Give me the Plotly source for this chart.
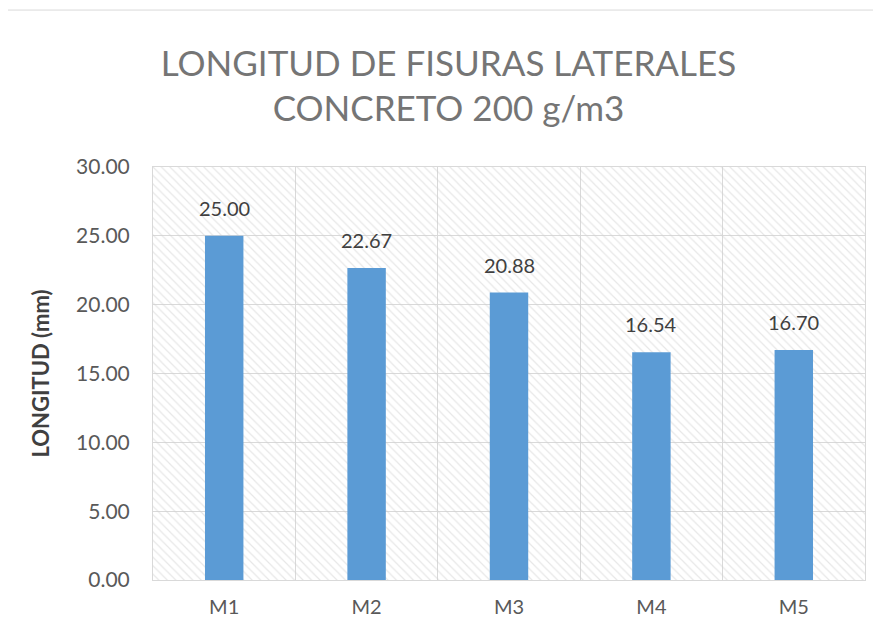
import plotly.graph_objects as go

categories = ["M1", "M2", "M3", "M4", "M5"]
values = [25.00, 22.67, 20.88, 16.54, 16.70]
y_ticks = [0, 5, 10, 15, 20, 25, 30]
y_tick_labels = ["0.00", "5.00", "10.00", "15.00", "20.00", "25.00", "30.00"]
y_max = 30
title_lines = ["LONGITUD DE FISURAS LATERALES", "CONCRETO 200 g/m3"]
y_title = "LONGITUD (mm)"

FONT = "Lato, Open Sans, sans-serif"
n = len(categories)

fig = go.Figure()

# hatched plot background spanning all categories and the full value range
fig.add_trace(go.Bar(
    x=[categories[n // 2]], y=[y_max], width=[n],
    marker=dict(color="rgba(0,0,0,0)", line=dict(width=0),
                pattern=dict(shape="\\", fgcolor="#d0d0d0", bgcolor="rgba(0,0,0,0)",
                             size=6, solidity=0.2)),
    hoverinfo="skip", showlegend=False,
))

fig.add_trace(go.Bar(
    x=categories, y=values, width=[0.27] * n,
    marker=dict(color="#5b9bd5", line=dict(width=0)),
    showlegend=False,
))

for c, v in zip(categories, values):
    fig.add_annotation(
        x=c, y=v, text=f"{v:.2f}", showarrow=False,
        yanchor="bottom", yshift=14,
        font=dict(family=FONT, size=20, color="#404040"),
    )

fig.update_layout(
    width=881, height=634,
    margin=dict(l=145, r=24, t=159, b=62),
    paper_bgcolor="white",
    plot_bgcolor="white",
    barmode="overlay",
    title=dict(text="<br>".join(title_lines), x=0.5, xanchor="center",
               y=0.893, yanchor="top",
               font=dict(family=FONT, size=35, color="#757575")),
    xaxis=dict(
        type="category", categoryorder="array", categoryarray=categories,
        range=[-0.5, n - 0.5],
        tickson="boundaries", showgrid=True,
        gridcolor="#d9d9d9", gridwidth=1,
        showline=True, linecolor="#d9d9d9", linewidth=1, mirror=True,
        ticks="", ticklabelstandoff=9,
        tickfont=dict(family=FONT, size=20, color="#595959"),
    ),
    yaxis=dict(
        range=[0, y_max], tickvals=y_ticks, ticktext=y_tick_labels,
        showgrid=True, gridcolor="#d9d9d9", gridwidth=1,
        showline=True, linecolor="#d9d9d9", mirror=True, zeroline=False,
        ticks="", ticklabelstandoff=18,
        tickfont=dict(family=FONT, size=21, color="#595959"),
        title=dict(text=f"<b>{y_title}</b>", standoff=20,
                   font=dict(family=FONT, size=22, color="#404040")),
    ),
    shapes=[dict(type="rect", xref="paper", yref="paper",
                 x0=-0.205, x1=1.2, y0=-0.3, y1=1.38,
                 line=dict(color="#d9d9d9", width=1), fillcolor="rgba(0,0,0,0)",
                 layer="below")],
)

fig.write_html("out.html")
